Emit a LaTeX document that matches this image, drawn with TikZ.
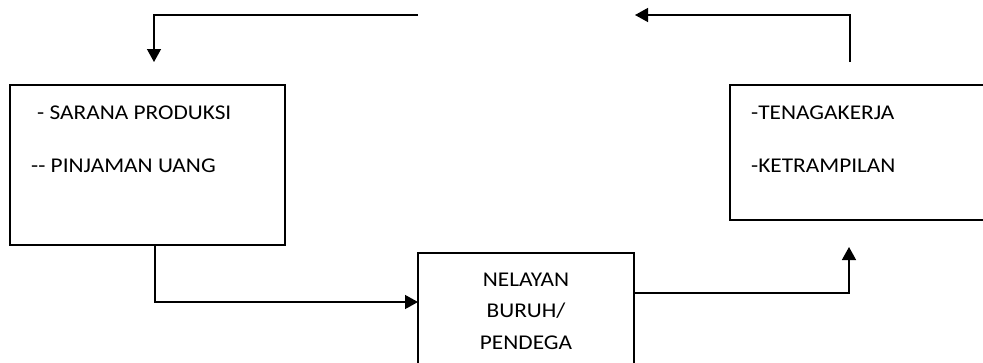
\documentclass[tikz,border=0pt]{standalone}
\usepackage{fontspec}
\newfontfamily\bodyfont{Carlito}[FakeStretch=1.11]
\usetikzlibrary{arrows.meta}

\begin{document}
\begin{tikzpicture}[
        x=1pt, y=-1pt,
        box/.style={draw, line width=1.4pt, inner sep=0pt},
        item/.style={anchor=base west, inner sep=0pt},
        mid/.style={anchor=base, inner sep=0pt},
        flow/.style={-{Triangle[length=13pt, width=14pt]}, line width=1.4pt},
        every node/.style={font=\bodyfont\fontsize{21}{25}\selectfont}
        ]
      \clip (0,0) rectangle (983,362);

      % the three boxes
      \node[box, minimum width=275pt, minimum height=160pt] (sarana) at (147.5,165) {};
      \node[box, minimum width=265pt, minimum height=135pt] (tenaga) at (862.5,152.5) {};
      \node[box, minimum width=216pt, minimum height=119pt] (nelayan) at (526,312.5) {};

      \node[item] (s1) at (37,119) {- SARANA PRODUKSI};
      \node[item] (s2) at (31,172) {-{}- PINJAMAN UANG};
      \node[item] (t1) at (751,119) {-TENAGAKERJA};
      \node[item] (t2) at (751,172) {-KETRAMPILAN};
      \node[mid] (n1) at (526,286) {NELAYAN};
      \node[mid] (n2) at (526,317) {BURUH/};
      \node[mid] (n3) at (526,349) {PENDEGA};

      % loose ends of the loop
      \coordinate (gapl) at (418,15);
      \coordinate (gapr) at (635,15);
      \coordinate (intop) at (154,62);
      \coordinate (outtop) at (850,62);
      \coordinate (inbot) at (418,302);
      \coordinate (outbot) at (849,247);

      \draw[flow] (gapl) -| (intop);
      \draw[flow] (outtop) |- (gapr);
      \draw[flow] (sarana.south -| 155,0) |- (inbot);
      \draw[flow] (nelayan.east |- 0,293) -| (outbot);

    \end{tikzpicture}
\end{document}
